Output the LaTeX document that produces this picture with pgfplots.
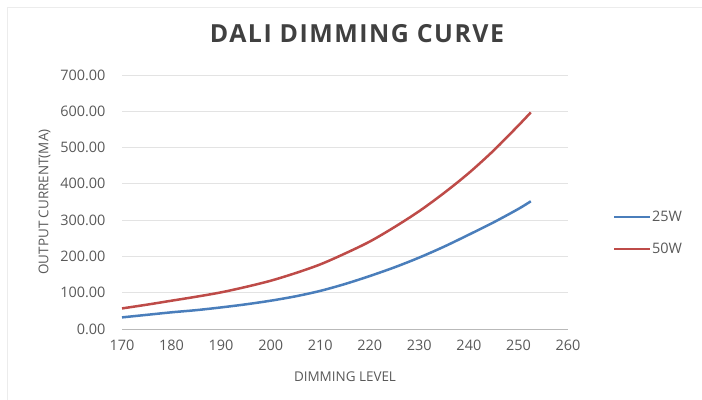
\documentclass[border=0pt]{standalone}
\usepackage{pgfplots}
\pgfplotsset{compat=1.18}
\usepackage{fontspec}
\setmainfont{Open Sans}
\definecolor{serblue}{HTML}{4A7EBB}
\definecolor{serred}{HTML}{BE4B48}
\definecolor{gridc}{HTML}{E3E3E3}
\definecolor{txt}{HTML}{595959}
\definecolor{ttl}{HTML}{404040}
\begin{document}
\begin{tikzpicture}
\path[use as bounding box] (0,0) rectangle (702bp,400bp);
\draw[gray!15, line width=1bp] (7bp,0) -- (7bp,392bp) -- (702bp,392bp);
\begin{axis}[
  at={(122bp,71bp)}, anchor=south west,
  scale only axis, width=446bp, height=254bp,
  xmin=170, xmax=260, ymin=0, ymax=700,
  xtick={170,180,...,260}, ytick={0,100,...,700},
  axis y line*=left, axis x line*=bottom,
  y axis line style={draw=none},
  x axis line style={draw=gray!55, line width=0.8bp},
  major tick length=0pt,
  ymajorgrids, grid style={gridc, line width=0.8bp},
  /pgf/number format/assume math mode=true,
  yticklabel={\pgfmathprintnumber[fixed, fixed zerofill, precision=2]{\tick}},
  xticklabel style={font=\fontsize{14.5}{16}\selectfont, text=txt, yshift=-8bp},
  yticklabel style={font=\fontsize{14.5}{16}\selectfont, text=txt, xshift=-13bp},
  xlabel={DIMMING LEVEL}, ylabel={OUTPUT CURRENT(MA)},
  label style={font=\fontsize{13.5}{15}\selectfont, text=txt},
  xlabel style={yshift=-14bp},
  ylabel style={yshift=3bp},
  legend style={at={(1.101,0.378)}, anchor=west, draw=none, fill=none,
    font=\fontsize{14.5}{16}\selectfont, text=txt, row sep=18bp,
    inner sep=0pt, outer sep=0pt, nodes={inner xsep=0.5bp, inner ysep=1bp},
    /tikz/every even column/.append style={column sep=0pt}},
  legend cell align=left,
  legend image code/.code={\draw[#1, line width=2.5bp] (0bp,0bp) -- (36bp,0bp);},
  clip=false,
]
\addplot[serblue, line width=2.5bp, smooth] coordinates {
(170,32) (175,39) (180,46) (185,52) (190,59.5) (195,68) (200,78) (205,90)
(210,105) (215,124) (220,146) (225,170) (230,197) (235,227) (240,260)
(245,294) (250,331) (252.5,352)};
\addlegendentry{25W}
\addplot[serred, line width=2.5bp, smooth] coordinates {
(170,56.7) (175,67) (180,78) (185,89) (190,101) (195,116) (200,133) (205,154)
(210,178) (215,208) (220,241) (225,281) (230,325) (235,375) (240,430)
(245,492) (250,561) (252.5,597)};
\addlegendentry{50W}
\end{axis}
\node[font=\bfseries\fontsize{25}{28}\selectfont\addfontfeatures{LetterSpace=6}, text=ttl] at (357bp,366bp) {DALI DIMMING CURVE};
\end{tikzpicture}
\end{document}
